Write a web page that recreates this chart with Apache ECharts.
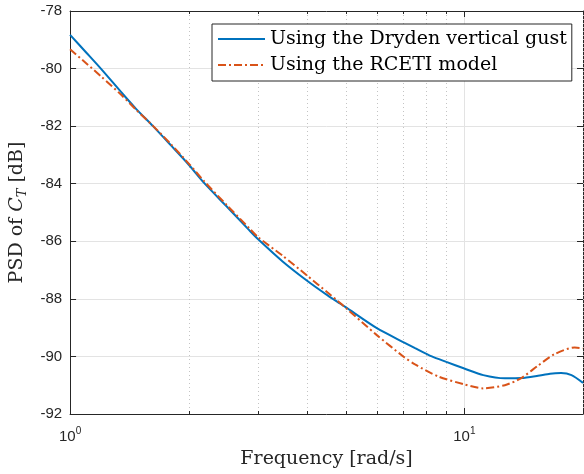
<!DOCTYPE html>
<html>
<head>
<meta charset="utf-8">
<script src="https://cdn.jsdelivr.net/npm/echarts@6/dist/echarts.min.js"></script>
<style>html,body{margin:0;padding:0;background:#fff}#c{width:584px;height:474px}</style>
</head>
<body>
<div id="c"></div>
<script>
// ---- data ----
const freqDryden = [1.0, 1.1, 1.2, 1.35, 1.47, 1.623, 1.8, 2.0, 2.19, 2.5, 2.85, 3.0, 3.46, 4.0, 4.5, 4.85, 5.0, 6.0, 7.0, 7.5, 8.27, 9.0, 10, 11.17, 12.67, 13.95, 15.38, 16.5, 17.6, 18.7, 20];
const psdDryden  = [-78.83, -79.45, -80.02, -80.83, -81.40, -82.0, -82.66, -83.34, -83.98, -84.80, -85.62, -85.93, -86.70, -87.38, -87.88, -88.17, -88.29, -89.02, -89.50, -89.71, -90.0, -90.19, -90.42, -90.65, -90.76, -90.75, -90.67, -90.6, -90.58, -90.65, -90.92];
const freqRceti  = [1.0, 1.1, 1.2, 1.35, 1.47, 1.623, 1.8, 2.0, 2.19, 2.5, 2.85, 3.0, 3.46, 4.0, 4.5, 4.85, 5.0, 6.0, 7.0, 7.5, 8.6, 10, 11.17, 12.67, 13.95, 15.38, 16.94, 19.05, 20];
const psdRceti   = [-79.33, -79.82, -80.28, -80.92, -81.43, -81.99, -82.62, -83.30, -83.92, -84.75, -85.55, -85.86, -86.50, -87.20, -87.78, -88.15, -88.31, -89.26, -90.0, -90.28, -90.70, -90.97, -91.11, -91.0, -90.75, -90.32, -89.92, -89.69, -89.72];
const seriesNames = ['Using the Dryden vertical gust', 'Using the RCETI model'];
const minorFreqs = [2, 3, 4, 5, 6, 7, 8, 9, 20];
const xMin = 1, xMax = 20;
const yMin = -92, yMax = -78, yStep = 2;

// ---- styles ----
const axisColor = '#262626';
const sans = 'Liberation Sans';
const serif = 'DejaVu Serif';
const blue = '#0072BD', orange = '#D95319';
const clear = 'rgba(0,0,0,0)';

const chart = echarts.init(document.getElementById('c'), null, {renderer: 'canvas'});

function supLabel(v) {
  const l = Math.log10(v);
  const e = Math.round(l);
  if (Math.abs(l - e) > 1e-6) return '';
  return '{b|10}{s|' + e + '}';
}

const option = {
  animation: false,
  backgroundColor: '#fff',
  grid: {left: 70, right: 1, top: 11, bottom: 59, containLabel: false},
  legend: {
    orient: 'vertical', left: 212, top: 24,
    itemWidth: 47, itemHeight: 14, itemGap: 4,
    padding: [4, 5, 5, 5],
    borderColor: axisColor, borderWidth: 1, backgroundColor: '#fff',
    textStyle: {fontFamily: serif, fontSize: 19, color: '#000', lineHeight: 22},
    data: seriesNames
  },
  xAxis: [{
    type: 'log', logBase: 10, min: xMin, max: xMax,
    position: 'bottom',
    name: 'Frequency [rad/s]', nameLocation: 'middle', nameGap: 36,
    nameTextStyle: {fontFamily: serif, fontSize: 19, color: axisColor},
    axisLine: {show: true, lineStyle: {color: axisColor, width: 1}},
    axisTick: {show: true, inside: true, length: 6, lineStyle: {color: axisColor}},
    axisLabel: {
      margin: 12, showMaxLabel: false, formatter: supLabel,
      rich: {
        b: {fontFamily: sans, fontSize: 15, color: axisColor, lineHeight: 18, verticalAlign: 'bottom'},
        s: {fontFamily: sans, fontSize: 10, color: axisColor, lineHeight: 10, verticalAlign: 'top'}
      }
    },
    splitLine: {show: true, lineStyle: {color: '#e3e3e3', width: 1}}
  }, {
    type: 'log', logBase: 10, min: xMin, max: xMax,
    position: 'top',
    axisLine: {show: true, onZero: false, lineStyle: {color: axisColor, width: 1}},
    axisTick: {show: true, inside: true, length: 6, lineStyle: {color: axisColor}},
    axisLabel: {show: false},
    splitLine: {show: false}
  }],
  yAxis: [{
    type: 'value', min: yMin, max: yMax, interval: yStep,
    position: 'left',
    name: '{a|PSD of }{i|C}{s|T}{a| [dB]}', nameLocation: 'middle', nameGap: 31,
    nameTextStyle: {
      rich: {
        a: {fontFamily: serif, fontSize: 19, color: axisColor, lineHeight: 24},
        i: {fontFamily: serif, fontSize: 19, fontStyle: 'italic', color: axisColor, lineHeight: 24},
        s: {fontFamily: serif, fontSize: 13, fontStyle: 'italic', color: axisColor, lineHeight: 13, verticalAlign: 'bottom'}
      }
    },
    axisLine: {show: true, lineStyle: {color: axisColor, width: 1}},
    axisTick: {show: true, inside: true, length: 6, lineStyle: {color: axisColor}},
    axisLabel: {margin: 8, fontFamily: sans, fontSize: 15, color: axisColor},
    splitLine: {show: true, lineStyle: {color: '#e3e3e3', width: 1}}
  }, {
    type: 'value', min: yMin, max: yMax, interval: yStep,
    position: 'right',
    axisLine: {show: true, onZero: false, lineStyle: {color: axisColor, width: 1}},
    axisTick: {show: true, inside: true, length: 6, lineStyle: {color: axisColor}},
    axisLabel: {show: false},
    splitLine: {show: false}
  }],
  series: [{
    type: 'custom', name: 'minor', silent: true, z: 1,
    xAxisIndex: 0, yAxisIndex: 0,
    data: minorFreqs.map(f => [f, yMin]),
    renderItem: function (params, api) {
      const cs = params.coordSys;
      const x = Math.round(api.coord([api.value(0), api.value(1)])[0]) + 0.5;
      const top = cs.y, bot = cs.y + cs.height;
      return {
        type: 'group',
        children: [
          {type: 'line', shape: {x1: x, y1: top, x2: x, y2: bot},
           style: {stroke: '#c4c4c4', lineWidth: 1, lineDash: [1, 3]}},
          {type: 'line', shape: {x1: x, y1: bot, x2: x, y2: bot - 3},
           style: {stroke: axisColor, lineWidth: 1}},
          {type: 'line', shape: {x1: x, y1: top, x2: x, y2: top + 3},
           style: {stroke: axisColor, lineWidth: 1}}
        ]
      };
    }
  }, {
    type: 'line', name: seriesNames[0], z: 3,
    data: freqDryden.map((f, i) => [f, psdDryden[i]]),
    symbol: 'circle', showSymbol: false, smooth: 0.25,
    lineStyle: {color: blue, width: 2},
    itemStyle: {color: clear, borderColor: clear, borderWidth: 0}
  }, {
    type: 'line', name: seriesNames[1], z: 4,
    data: freqRceti.map((f, i) => [f, psdRceti[i]]),
    symbol: 'circle', showSymbol: false, smooth: 0.25,
    lineStyle: {color: orange, width: 2, type: [8, 3, 2, 3]},
    itemStyle: {color: clear, borderColor: clear, borderWidth: 0}
  }]
};
chart.setOption(option);
</script>
</body>
</html>
